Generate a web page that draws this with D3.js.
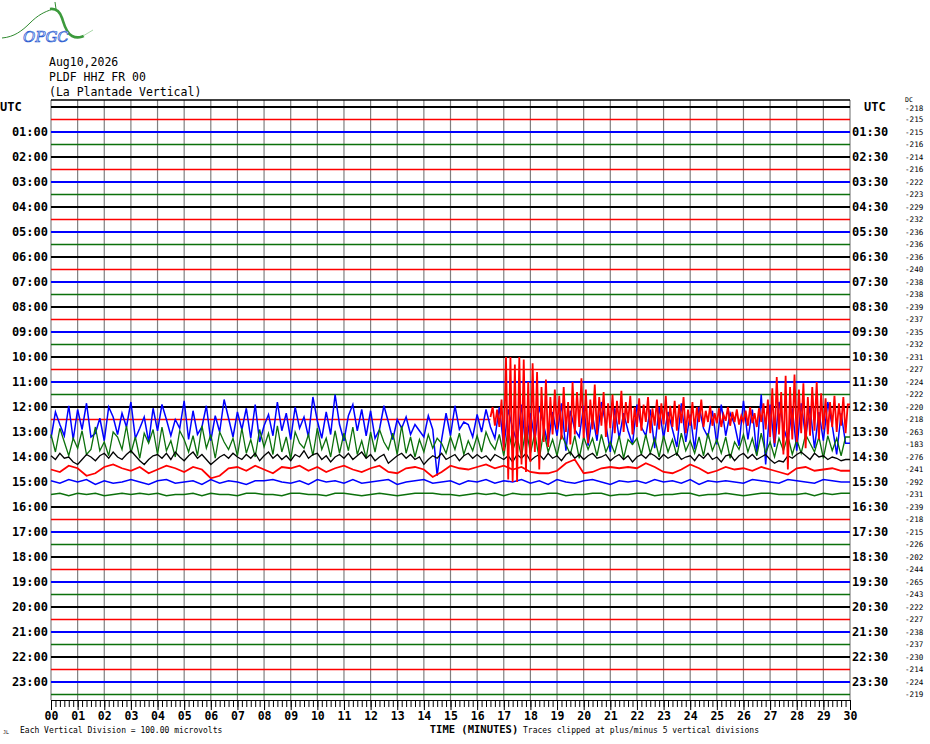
<!DOCTYPE html>
<html>
<head>
<meta charset="utf-8">
<script src="https://cdn.jsdelivr.net/npm/d3@7"></script>
<style>
  body { margin: 0; background: #fff; }
  svg { display: block; }
  .mono { font-family: "DejaVu Sans Mono", monospace; }
</style>
</head>
<body>
<div class="helicorder"></div>
<script>
// station header
const headerLines = ["Aug10,2026", "PLDF HHZ FR 00", "(La Plantade Vertical)"];

// 48 half-hour rows, colours cycle black / red / blue / green
const traceColors = ["#000000", "#ff0000", "#0000ff", "#0b700b"];
const leftLabels = ["UTC", "01:00", "02:00", "03:00", "04:00", "05:00", "06:00", "07:00", "08:00", "09:00", "10:00", "11:00",
  "12:00", "13:00", "14:00", "15:00", "16:00", "17:00", "18:00", "19:00", "20:00", "21:00", "22:00", "23:00"];
const rightLabels = ["UTC", "01:30", "02:30", "03:30", "04:30", "05:30", "06:30", "07:30", "08:30", "09:30", "10:30", "11:30",
  "12:30", "13:30", "14:30", "15:30", "16:30", "17:30", "18:30", "19:30", "20:30", "21:30", "22:30", "23:30"];

// DC offset printed at the right of every row
const dcOffsets = [-218, -215, -215, -216, -214, -216, -222, -223, -229, -232, -236, -236,
  -236, -240, -238, -238, -239, -237, -235, -232, -231, -227, -224, -222,
  -220, -218, -263, -183, -276, -241, -292, -231, -239, -218, -215, -226,
  -202, -244, -265, -243, -222, -227, -238, -237, -230, -214, -224, -219];

// minute tick labels
const minuteLabels = ["00", "01", "02", "03", "04", "05", "06", "07", "08", "09", "10", "11", "12", "13", "14", "15",
  "16", "17", "18", "19", "20", "21", "22", "23", "24", "25", "26", "27", "28", "29", "30"];

// active rows, values in vertical divisions (1 div = 100 microvolts), + is up
// row 25 (12:30, red): quiet until 16.5 min, 5 s samples
const red1230 = [
  0.2, 1.0, -0.5, 0.8, -0.6, 1.6,
  -2.5, 5.0, -4.8, 5.0, -5.0, 4.4,
  -5.0, 5.0, -3.6, 4.8, -4.2, 3.0,
  -3.4, 4.5, -2.6, 3.8, -4.0, 2.6,
  -1.8, 3.2, -2.2, 1.8, -1.2, 2.4,
  -0.8, 1.9, -1.6, 2.6, -1.0, 1.4,
  -2.0, 3.0, -1.2, 2.2, -0.6, 3.3,
  -1.5, 2.4, -1.9, 1.6, -0.8, 2.8,
  -1.2, 1.8, -0.5, 2.2, -1.4, 1.3,
  -0.7, 2.0, -1.1, 1.5, -0.4, 2.3,
  -1.0, 1.4, -0.3, 1.9, -1.2, 1.0,
  -0.6, 1.7, -0.9, 1.2, -0.2, 1.8,
  -1.1, 0.9, -0.5, 1.6, -0.8, 1.3,
  -0.4, 1.9, -1.0, 1.1, -0.6, 1.5,
  -0.9, 1.2, -0.3, 1.8, -1.1, 0.8,
  -0.5, 1.4, -0.8, 1.0, -0.2, 1.6,
  -0.6, 0.7, -0.2, 1.1, -0.5, 0.5,
  -0.3, 0.9, -0.6, 0.4, -0.1, 1.0,
  -0.5, 0.6, -0.2, 0.8, -0.4, 0.3,
  -0.2, 0.7, -0.5, 1.0, -0.3, 0.5,
  -0.6, 0.9, -0.2, 1.3, -0.8, 1.6,
  -1.4, 2.5, -1.9, 3.4, -1.2, 2.2,
  -2.8, 3.5, -4.0, 2.6, -1.6, 3.6,
  -1.8, 2.4, -1.1, 2.9, -2.3, 1.8,
  -1.3, 2.6, -0.9, 3.0, -1.6, 2.1,
  -0.8, 1.7, -1.2, 1.4, -0.6, 1.9,
  -1.0, 1.3, -0.5, 1.8, -1.1, 1.2
];

// row 26 (13:00, blue): 10 s samples
const blue1300 = [
  -0.5, 1.6, 0.6, -0.3, 2.1, -0.6,
  1.8, 0.2, 2.3, -0.4, -0.1, 1.1,
  -0.7, 2.0, 1.2, -0.2, 1.5, 0.4,
  2.4, -0.5, 0.3, 1.2, -0.8, 1.9,
  0.1, 2.2, 1.0, -0.3, 1.0, 0.3,
  2.5, -0.6, 1.7, -0.2, 0.4, 2.1,
  -0.7, 1.3, 0.0, 2.6, 1.1, -0.4,
  1.6, 0.2, 1.9, -0.5, 2.2, -0.8,
  0.5, 1.4, -0.3, 2.4, 0.1, 1.5,
  -0.6, 2.0, 0.3, 1.2, -0.4, 2.8,
  0.9, -0.5, 1.6, -0.2, 3.0, 0.6,
  -0.7, 1.3, 2.2, 0.1, 1.8, -0.3,
  1.7, -0.5, 0.2, 2.1, 0.8, -0.6,
  1.0, 0.3, 1.2, -0.2, 0.6, 0.1,
  -0.4, 1.3, 0.2, -3.5, -0.6, 1.5,
  -0.3, 2.1, 0.2, 0.8, 0.6, -0.4,
  1.4, 0.0, 1.8, 0.4, -0.5, 2.0,
  -1.2, 1.8, 0.3, -0.8, 2.2, -1.4,
  1.5, -0.6, 2.0, 0.5, -1.0, 1.6,
  -0.3, 2.3, -1.5, 1.7, 0.2, -0.4,
  2.1, -1.1, 1.3, -0.7, 2.4, 0.6,
  -1.6, 1.9, -0.5, 1.5, 0.1, -1.0,
  2.2, 0.4, -0.3, 1.8, -1.3, 2.0,
  -0.5, 1.6, 0.2, -1.2, 2.3, -0.8,
  1.4, -1.4, 2.0, 0.3, -0.4, 1.7,
  -1.0, 2.2, -0.3, 1.5, 0.6, -1.1,
  2.5, -0.6, 1.8, -1.8, 3.0, -2.6,
  2.2, -1.2, 2.4, 0.4, -0.8, 1.9,
  -1.5, 2.3, -0.4, 2.0, -1.3, 1.6,
  -0.7, 2.4, 0.5, -1.8, 1.5, -0.9
];

// row 27 (13:30, green): 10 s samples
const green1330 = [
  0.8, -0.6, 1.3, 0.2, -0.9, 0.5,
  -0.3, 1.1, -0.8, -0.4, 1.4, -0.5,
  0.2, -0.9, 1.0, 0.6, -0.4, 1.5,
  -0.7, 0.6, -1.1, 0.9, 0.1, 1.2,
  -0.8, 1.4, -0.5, 0.3, -1.0, 1.1,
  0.4, -0.6, 0.7, -0.9, 1.5, -0.3,
  0.8, -1.1, 1.0, 0.2, -0.4, 0.5,
  -0.9, 1.3, -0.7, 0.4, -1.0, 1.2,
  -0.2, 0.9, -0.8, 1.5, -0.6, 0.6,
  -1.2, 1.0, 0.1, -0.3, 0.8, -0.9,
  1.3, -0.4, 0.5, -1.0, 1.1, -0.7,
  0.9, -0.5, 1.4, -0.8, 0.3, -1.1,
  1.0, -0.6, 1.2, 0.2, -0.4, 0.9,
  -0.8, 1.5, -0.7, 0.6, -1.0, 0.4,
  -0.6, 0.8, -0.3, 0.5, 0.1, -0.7,
  0.6, -0.4, 0.9, -0.8, 0.3, -0.5,
  0.7, -0.6, 1.0, 0.1, -0.4, 0.8,
  -0.9, 1.2, -0.5, 0.6, -1.0, 1.4,
  -0.7, 0.9, -1.2, 1.1, -0.6, 0.4,
  -0.9, 0.8, 0.0, -0.8, 0.7, -1.1,
  0.6, -0.4, 0.5, -0.9, 0.8, -0.6,
  0.2, -0.7, 0.7, -1.1, 0.4, 0.0,
  0.5, -0.8, 0.8, -0.7, 0.5, -1.0,
  0.7, -0.6, 0.4, -0.9, 0.9, -0.5,
  0.3, -0.7, 0.6, -0.9, 0.9, -0.5,
  0.4, -0.7, 0.6, -1.1, 0.2, -0.4,
  0.8, -0.6, 0.5, -0.9, 0.9, -0.7,
  0.2, -1.0, 0.5, -0.5, 0.7, -0.8,
  0.4, -0.7, 0.8, 0.1, -0.6, 0.6,
  -1.1, 0.7, -0.5, 0.5, -0.9, 0.6
];

// row 28 (14:00, black): 10 s samples
const black1400 = [
  0.1, -0.2, 0.3, -0.1, 0.0, -0.4,
  -0.6, -0.2, 0.2, 0.0, -0.3, 0.1,
  0.3, -0.1, 0.4, 0.0, -0.2, 0.2,
  0.5, 0.1, -0.3, -0.6, -0.2, 0.1,
  0.2, -0.1, 0.3, -0.2, 0.4, 0.0,
  -0.3, 0.1, 0.4, -0.1, 0.2, -0.2,
  -0.6, -0.3, 0.0, 0.2, -0.1, 0.3,
  0.0, -0.2, 0.2, -0.1, 0.3, -0.3,
  0.1, 0.4, -0.1, 0.2, -0.2, 0.1,
  -0.3, 0.2, 0.0, 0.5, -0.1, 0.2,
  0.3, -0.2, 0.1, -0.4, 0.0, 0.2,
  -0.1, 0.3, -0.2, 0.1, 0.4, -0.1,
  0.2, -0.3, 0.0, 0.2, -0.5, -0.2,
  0.1, 0.3, -0.1, 0.2, -0.2, 0.0,
  -0.6, -0.2, 0.1, -0.1, 0.3, -0.2,
  0.0, 0.2, -0.3, 0.1, 0.3, -0.1,
  0.2, -0.1, 0.1, -0.3, 0.2, 0.0,
  -0.2, 0.1, -0.4, 0.2, -0.1, 0.3,
  -0.3, 0.0, 0.2, -0.2, 0.3, -0.1,
  0.1, -0.3, 0.2, 0.4, -0.1, 0.2,
  -0.2, 0.1, 0.3, -0.1, 0.0, 0.2,
  -0.3, 0.0, 0.2, -0.2, 0.1, -0.4,
  0.0, 0.2, -0.1, 0.3, 0.1, -0.2,
  0.2, -0.1, 0.1, 0.3, -0.2, 0.0,
  0.1, -0.3, 0.2, -0.1, 0.3, -0.2,
  0.0, -0.4, 0.1, 0.2, -0.3, 0.1,
  0.3, -0.1, 0.2, -0.2, 0.0, 0.2,
  -0.2, -0.5, -0.3, -0.4, 0.1, -0.1,
  0.2, 0.4, 0.1, -0.2, 0.3, 0.0,
  0.1, -0.2, 0.0, -0.1, -0.3, -0.2
];

// row 29 (14:30, red): 20 s samples
const red1430 = [
  0.0, -0.2, 0.3, 0.1, -0.5, -0.3, 0.2, 0.4, 0.1, -0.1, 0.2, -0.3,
  0.0, 0.3, 0.1, -0.2, 0.2, 0.0, -0.7, -0.5, 0.1, 0.2, -0.1, 0.3,
  0.0, -0.3, 0.2, 0.1, 0.3, -0.1, 0.2, -0.2, 0.1, 0.3, 0.0, -0.2,
  0.1, 0.3, -0.2, -0.3, 0.1, 0.2, 0.0, -0.6, -0.2, 0.3, 0.1, 0.0,
  0.2, 0.4, 0.1, 0.3, 0.0, 0.2, -0.2, -0.3, -0.3, -0.1, 0.5, 0.8,
  -0.3, -0.2, 0.1, 0.2, 0.1, 0.2, 0.1, 0.5, 0.2, -0.2, -0.3, 0.0,
  0.4, 0.1, -0.3, -0.1, 0.2, 0.0, 0.1, -0.1, 0.2, 0.0, -0.2, -0.4,
  0.1, 0.2, -0.1, 0.0, 0.1, -0.1
];

// row 30 (15:00, blue): 20 s samples
const blue1500 = [
  0.1, -0.1, 0.2, 0.0, 0.2, -0.2, 0.1, -0.1, 0.0, 0.2, 0.0, -0.2,
  0.1, 0.2, -0.1, 0.0, 0.1, -0.2, 0.2, -0.1, 0.1, 0.0, -0.2, 0.1,
  0.1, 0.2, 0.0, -0.1, 0.1, -0.2, 0.2, 0.0, 0.1, -0.1, 0.2, -0.1,
  0.0, 0.1, 0.2, -0.2, 0.0, 0.1, 0.2, -0.1, 0.0, 0.1, -0.2, 0.1,
  0.0, 0.2, -0.1, 0.1, 0.0, 0.2, -0.1, 0.1, -0.2, 0.2, 0.0, -0.1,
  0.1, 0.2, 0.0, -0.2, 0.1, 0.0, 0.1, -0.1, 0.2, 0.0, 0.1, -0.1,
  0.2, -0.2, 0.1, 0.0, 0.1, 0.0, -0.1, 0.2, 0.1, 0.0, -0.1, 0.2,
  0.1, 0.0, -0.1, 0.2, 0.1, 0.0
];

// row 31 (15:30, green): 20 s samples
const green1530 = [
  0.0, 0.1, -0.1, 0.1, 0.0, 0.1, -0.1, 0.0, 0.1, 0.0, 0.1, 0.0,
  0.1, -0.1, 0.0, 0.0, 0.1, -0.1, 0.1, 0.0, 0.0, -0.1, 0.1, 0.1,
  0.0, 0.0, -0.1, 0.1, 0.1, 0.0, 0.0, -0.1, 0.1, 0.1, 0.0, -0.1,
  0.0, 0.1, 0.0, -0.1, 0.0, 0.1, 0.1, 0.1, 0.0, 0.0, -0.1, 0.0,
  0.1, 0.0, 0.1, -0.1, 0.1, 0.0, 0.0, 0.0, 0.1, 0.1, -0.1, 0.0,
  0.0, 0.1, 0.1, -0.1, 0.0, 0.0, 0.1, 0.1, -0.1, 0.0, 0.0, 0.1,
  0.1, -0.1, 0.0, 0.0, 0.1, 0.0, -0.1, 0.0, 0.1, 0.1, 0.0, 0.0,
  0.0, 0.1, -0.1, 0.1, 0.0, 0.1
];

// row, start minute, sample step (seconds), values
const activeRows = [
  { row: 25, start: 16.5, step: 5, values: red1230 },
  { row: 26, start: 0, step: 10, values: blue1300 },
  { row: 27, start: 0, step: 10, values: green1330 },
  { row: 28, start: 0, step: 10, values: black1400 },
  { row: 29, start: 0, step: 20, values: red1430 },
  { row: 30, start: 0, step: 20, values: blue1500 },
  { row: 31, start: 0, step: 20, values: green1530 }
];

//^ SIZES //
const W = 930, H = 744;
const plotLeft = 51, plotRight = 850, plotTop = 100, plotBottom = 700;
const nRows = dcOffsets.length;
const clipDiv = 5;

const svg = d3.select(".helicorder").append("svg").attr("width", W).attr("height", H);

//^ SCALES //
const x = d3.scaleLinear().domain([0, 30]).range([plotLeft, plotRight]);
const rowY = d3.scaleLinear().domain([0, nRows - 1]).range([107, 694.5]);
const amp = d3.scaleLinear().domain([-clipDiv, clipDiv]).range([62.5, -62.5]);

//^ LOGO //
const logo = svg.append("g");
logo.append("path").attr("d", "M2,38 C14,37 22,31 30,23 S44,12 53,9").attr("fill", "none").attr("stroke", "#2f8a2f").attr("stroke-width", 1);
logo.append("path").attr("d", "M55,2 L56,9").attr("stroke", "#2f8a2f").attr("stroke-width", 1);
logo.append("path").attr("d", "M50,9 C57,8 60,12 62,18 S66,33 72,36 S80,37 84,36").attr("fill", "none").attr("stroke", "#3c9a3c").attr("stroke-width", 2.6);
logo.append("path").attr("d", "M83,36 L93,30").attr("fill", "none").attr("stroke", "#a8d8a8").attr("stroke-width", 1);
logo.append("text").attr("x", 23).attr("y", 42).attr("font-family", "DejaVu Serif").attr("font-style", "italic")
  .attr("font-size", 15).attr("fill", "#d6e4ff").attr("stroke", "#2a5bd0").attr("stroke-width", 0.7).text("OPGC");

//^ HEADER //
svg.selectAll(".hdr").data(headerLines).join("text").attr("class", "mono")
  .attr("x", 49).attr("y", (d, i) => 65.5 + i * 15).attr("font-size", 11.5).attr("fill", "#000").text(d => d);

//^ GRID //
svg.append("g").selectAll("line").data(d3.range(0, 31)).join("line")
  .attr("x1", d => x(d)).attr("x2", d => x(d)).attr("y1", plotTop).attr("y2", plotBottom)
  .attr("stroke", "#808080").attr("stroke-width", 1.2);
svg.append("line").attr("x1", plotLeft).attr("x2", plotRight).attr("y1", plotTop).attr("y2", plotTop)
  .attr("stroke", "#000").attr("stroke-width", 1.5);

//^ TRACES //
const line = d3.line().x(d => x(d[0])).y(d => d[1]);
const quietWidth = [1.8, 1.3, 2.2, 1.3];
const activeWidth = [1.3, 1.8, 1.5, 1.3];
const traceG = svg.append("g");
const topG = svg.append("g"); // bursts that start late sit on top of their neighbours
for (let i = 0; i < nRows; i++) {
  const base = rowY(i);
  const spec = activeRows.find(a => a.row === i);
  const color = traceColors[i % 4];
  if (!spec) {
    traceG.append("path").attr("d", line([[0, base], [30, base]])).attr("fill", "none")
      .attr("stroke", color).attr("stroke-width", quietWidth[i % 4]);
    continue;
  }
  const pts = [];
  spec.values.forEach((v, k) => {
    const v2 = Math.max(-clipDiv, Math.min(clipDiv, v));
    pts.push([spec.start + k * spec.step / 60, base + amp(v2)]);
  });
  if (spec.start + (spec.values.length - 1) * spec.step / 60 < 30) pts.push([30, base + amp(spec.values[spec.values.length - 1])]);
  if (spec.start > 0) {
    traceG.append("path").attr("d", line([[0, base], [spec.start, base]])).attr("fill", "none")
      .attr("stroke", color).attr("stroke-width", quietWidth[i % 4]);
  }
  (spec.start > 0 ? topG : traceG).append("path").attr("d", line(pts)).attr("fill", "none")
    .attr("stroke", color).attr("stroke-width", activeWidth[i % 4]).attr("stroke-linejoin", "miter");
}
topG.raise();

//^ ROW LABELS //
const hourRows = d3.range(0, nRows, 2);
svg.append("g").selectAll("text").data(hourRows).join("text").attr("class", "mono")
  .attr("x", (d, i) => i === 0 ? 0 : 48).attr("text-anchor", (d, i) => i === 0 ? "start" : "end")
  .attr("y", d => rowY(d)).attr("dy", "0.36em").attr("font-size", 12).attr("font-weight", "bold")
  .text((d, i) => leftLabels[i]);
svg.append("g").selectAll("text").data(hourRows).join("text").attr("class", "mono")
  .attr("x", (d, i) => i === 0 ? 864 : 852)
  .attr("y", d => rowY(d)).attr("dy", "0.36em").attr("font-size", 12).attr("font-weight", "bold")
  .text((d, i) => rightLabels[i]);

//^ DC OFFSETS //
svg.append("text").attr("class", "mono").attr("x", 905).attr("y", 102).attr("font-size", 6.5).text("DC");
svg.append("g").selectAll("text").data(dcOffsets).join("text").attr("class", "mono")
  .attr("x", 905).attr("y", (d, i) => rowY(i) + (i === 0 ? 1 : 0)).attr("dy", "0.35em").attr("font-size", 7.6)
  .text(d => d);

//^ TIME AXIS //
const minorAxis = d3.axisBottom(x).tickValues(d3.range(0, 181).map(k => k / 6)).tickSize(7).tickFormat("");
svg.append("g").attr("transform", `translate(0,${plotBottom})`).call(minorAxis)
  .call(g => g.selectAll("line,path").attr("stroke", "#000").attr("stroke-width", 1));
const majorAxis = d3.axisBottom(x).tickValues(d3.range(0, 31)).tickSize(10).tickPadding(3).tickFormat(d => minuteLabels[d]);
svg.append("g").attr("transform", `translate(0,${plotBottom})`).call(majorAxis)
  .call(g => g.select(".domain").remove())
  .call(g => g.selectAll("line").attr("stroke", "#000"))
  .call(g => g.selectAll("text").attr("font-family", "DejaVu Sans Mono").attr("font-weight", "bold")
    .attr("font-size", 11.5).attr("fill", "#000").attr("y", 12).attr("dy", "0.71em"));

//^ FOOTER //
svg.append("text").attr("class", "mono").attr("x", 3).attr("y", 734).attr("font-size", 5).text("JL");
svg.append("text").attr("class", "mono").attr("x", 20).attr("y", 733).attr("font-size", 8)
  .text("Each Vertical Division =  100.00 microvolts");
svg.append("text").attr("class", "mono").attr("x", 474).attr("y", 733).attr("text-anchor", "middle")
  .attr("font-size", 10.5).attr("font-weight", "bold").text("TIME (MINUTES)");
svg.append("text").attr("class", "mono").attr("x", 523).attr("y", 733).attr("font-size", 8)
  .text("Traces clipped at plus/minus 5 vertical divisions");
</script>
</body>
</html>
